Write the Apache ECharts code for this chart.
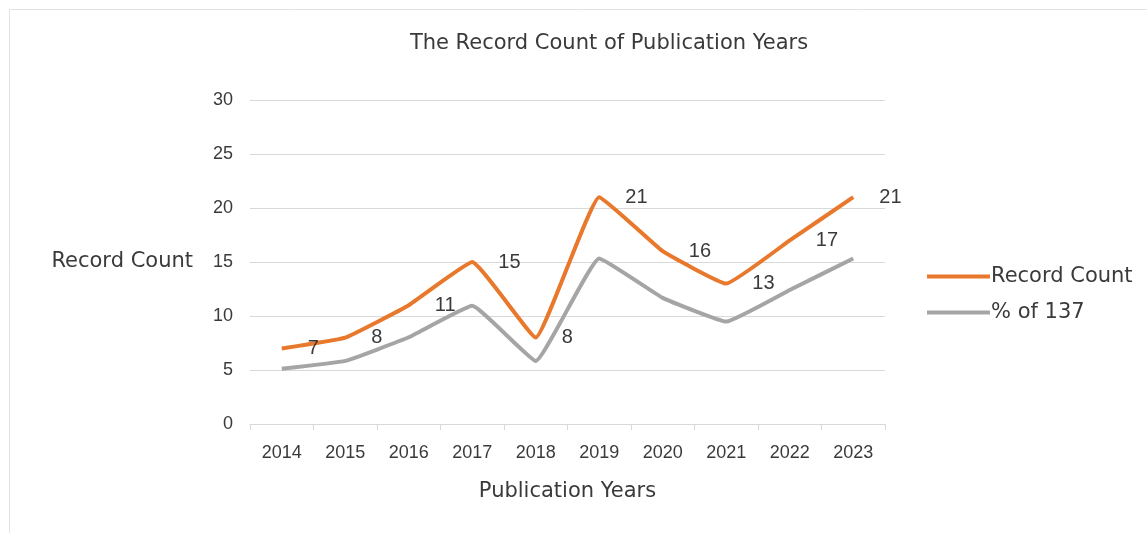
<!DOCTYPE html>
<html>
<head>
<meta charset="utf-8">
<script src="https://cdn.jsdelivr.net/npm/echarts@6/dist/echarts.min.js"></script>
<style>
  html, body { margin: 0; padding: 0; background: #fff; }
  #chart { width: 1147px; height: 533px; }
</style>
</head>
<body>
<div id="chart"></div>
<script>
const years = ['2014', '2015', '2016', '2017', '2018', '2019', '2020', '2021', '2022', '2023']
const recordCount = [7, 8, 11, 15, 8, 21, 16, 13, 17, 21]
// share of the 137 records, in percent
const percentOf137 = [5.11, 5.84, 8.03, 10.95, 5.84, 15.33, 11.68, 9.49, 12.41, 15.33]
const yTicks = [0, 5, 10, 15, 20, 25, 30]

const textColor = '#3a3a3a'
const numFont = 'Liberation Sans, Arial, sans-serif'
// words in the original are set wider than the digits
const wordFont = 'DejaVu Sans, Liberation Sans, sans-serif'

const chart = echarts.init(document.getElementById('chart'))

chart.setOption({
  animation: false,
  textStyle: { fontFamily: numFont },
  graphic: [
    {
      type: 'rect',
      shape: { x: 9.5, y: 9.5, width: 1200, height: 600 },
      style: { fill: 'none', stroke: '#e3e3e3', lineWidth: 1 },
      silent: true
    }
  ],
  title: {
    text: 'The Record Count of Publication Years',
    left: 604,
    top: 28,
    textAlign: 'center',
    textStyle: { fontSize: 21, fontWeight: 'normal', color: textColor, fontFamily: wordFont }
  },
  legend: {
    orient: 'vertical',
    left: 922,
    top: 261,
    itemGap: 15,
    itemWidth: 63,
    itemHeight: 4,
    icon: 'rect',
    textStyle: { fontSize: 21, color: textColor, fontFamily: wordFont, padding: [0, 0, 0, -4] },
    data: ['Record Count', '% of 137']
  },
  grid: { left: 250, right: 262, top: 100, bottom: 109 },
  xAxis: {
    type: 'category',
    data: years,
    boundaryGap: true,
    name: 'Publication Years',
    nameLocation: 'middle',
    nameGap: 57,
    nameTextStyle: { fontSize: 21, color: textColor, fontFamily: wordFont },
    axisLine: { lineStyle: { color: '#d9d9d9', width: 1 } },
    axisTick: { show: true, length: 6, lineStyle: { color: '#d9d9d9' } },
    axisLabel: { fontSize: 18, color: textColor, margin: 20 }
  },
  yAxis: {
    type: 'value',
    min: yTicks[0],
    max: yTicks[yTicks.length - 1],
    interval: 5,
    name: 'Record Count',
    nameLocation: 'middle',
    nameRotate: 0,
    nameGap: 57,
    nameTextStyle: { fontSize: 21, color: textColor, fontFamily: wordFont },
    axisLine: { show: false },
    axisTick: { show: false },
    axisLabel: { fontSize: 18, color: textColor, margin: 17 },
    splitLine: { lineStyle: { color: '#d9d9d9', width: 1 } }
  },
  series: [
    {
      name: 'Record Count',
      type: 'line',
      data: recordCount,
      smooth: 0.1,
      symbol: 'circle',
      symbolSize: 0.1,
      showSymbol: true,
      color: '#E8782B',
      lineStyle: { width: 4, color: '#E8782B' },
      label: {
        show: true,
        position: 'right',
        distance: 26,
        fontSize: 20,
        color: textColor
      },
      z: 3
    },
    {
      name: '% of 137',
      type: 'line',
      data: percentOf137,
      smooth: 0.1,
      symbol: 'none',
      color: '#A5A5A5',
      lineStyle: { width: 4, color: '#A5A5A5' },
      z: 2
    }
  ]
})
</script>
</body>
</html>
